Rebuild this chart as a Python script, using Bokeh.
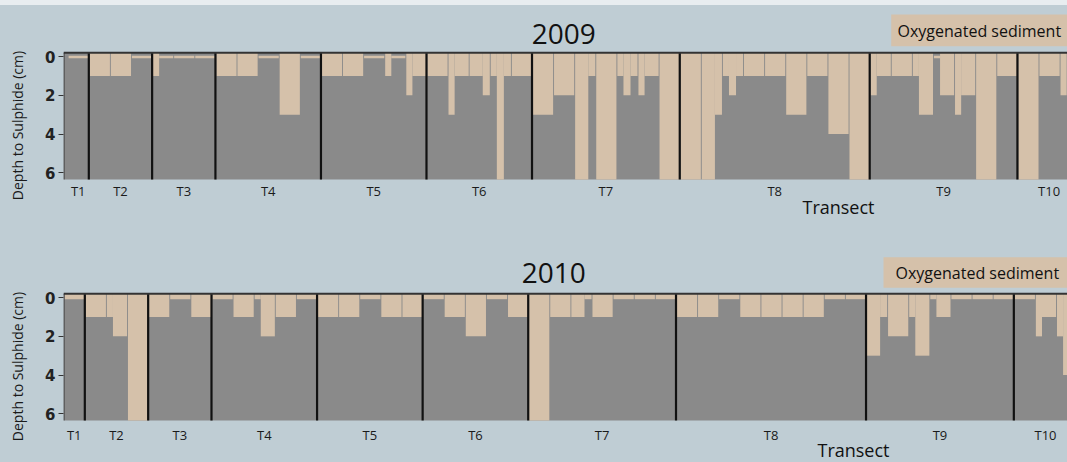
import numpy as np
from bokeh.plotting import figure
from bokeh.models import Range1d, FixedTicker, Label, LinearAxis, ColumnDataSource, Div
from bokeh.layouts import column
from bokeh.embed import file_html
from bokeh.resources import INLINE

# ---------------- data ----------------
transects = ["T1", "T2", "T3", "T4", "T5", "T6", "T7", "T8", "T9", "T10"]
stations = [1, 3, 3, 5, 5, 5, 7, 9, 7, 3]      # stations per transect
REPS = 3                                         # cores (replicates) per station
F = 6.5                                          # sulphide not reached within the core
y_ticks = [0, 2, 4, 6]

# depth to sulphide (cm) for each core, transect by transect (T10 is cut by the frame)
depth_2009 = [
    0, 0, 0,                                                   # T1
    1, 1, 1, 1, 1, 1, 0, 0, 0,                                 # T2
    1, 0, 0, 0, 0, 0, 0, 0, 0,                                 # T3
    1, 1, 1, 1, 1, 1, 0, 0, 0, 3, 3, 3, 0, 0, 0,               # T4
    1, 1, 1, 1, 1, 1, 0, 0, 0, 1, 0, 0, 2, 1, 1,               # T5
    1, 1, 1, 3, 1, 1, 1, 1, 2, 1, F, 1, 1, 1, 1,               # T6
    3, 3, 3, 2, 2, 2, F, F, 1, F, F, F, 1, 2, 1, 2, 1, 1, F, F, F,   # T7
    F, F, F, F, F, 3, 1, 2, 1, 1, 1, 1, 1, 1, 1, 3, 3, 3, 1, 1, 1, 4, 4, 4, F, F, F,  # T8
    2, 1, 1, 1, 1, 1, 1, 3, 3, 0, 2, 2, 3, 2, 2, F, F, F, 1, 1, 1,   # T9
    F, F, F, 1, 1, 1, 2,                                       # T10
]
depth_2010 = [
    0, 0, 0,                                                   # T1
    1, 1, 1, 1, 2, 2, F, F, F,                                 # T2
    1, 1, 1, 0, 0, 0, 1, 1, 1,                                 # T3
    0, 0, 0, 1, 1, 1, 0, 2, 2, 1, 1, 1, 0, 0, 0,               # T4
    1, 1, 1, 1, 1, 1, 0, 0, 0, 1, 1, 1, 1, 1, 1,               # T5
    0, 0, 0, 1, 1, 1, 2, 2, 2, 0, 0, 0, 1, 1, 1,               # T6
    F, F, F, 1, 1, 1, 1, 1, 0, 1, 1, 1, 0, 0, 0, 0, 0, 0, 0, 0, 0,   # T7
    1, 1, 1, 1, 1, 1, 0, 0, 0, 1, 1, 1, 1, 1, 1, 1, 1, 1, 1, 1, 1, 0, 0, 0, 0, 0, 0,  # T8
    3, 3, 1, 2, 2, 2, 1, 3, 3, 0, 1, 1, 0, 0, 0, 0, 0, 0, 0, 0, 0,   # T9
    0, 0, 0, 2, 1, 1, 2, 4,                                    # T10
]

# ---------------- style / layout ----------------
BG = "#bfcdd4"
GRAY = "#8a8a8a"
TAN = "#d5c1aa"
TOPSTRIP = "#e8edf0"
INK = "#111111"
LINE = "#333333"
Y_TOP, Y_BOTTOM = -0.2, 6.35       # depth shown in the grey core area
GAP = 0.13
W = 1067
FRAME_LEFT = 63
PX_PER_CM = 19.34


def panel(year, depths, page_top, height, area_top, origin, px_core, title_px,
          legend_box_px, legend_text_px, transect_px, tick_label_y, zero_top):
    xd = lambda px: (px - origin) / px_core
    yd = lambda py: Y_TOP + (py - area_top) / PX_PER_CM
    x0, x1 = xd(FRAME_LEFT), xd(W)
    p = figure(width=W, height=height, x_range=Range1d(x0, x1),
               y_range=Range1d(yd(page_top + height), yd(page_top)),
               output_backend="svg", toolbar_location=None,
               min_border_left=FRAME_LEFT, min_border_right=0,
               min_border_top=0, min_border_bottom=0,
               background_fill_color=None, border_fill_color=BG, outline_line_color=None)
    p.grid.visible = False

    # grey core area (sulphidic sediment)
    p.quad(left=[x0], right=[x1], top=[Y_TOP], bottom=[Y_BOTTOM],
           fill_color=GRAY, line_color=None)

    # oxygenated layer: one quad per run of equal cores inside a station
    d = np.array(depths, dtype=float)
    n = len(d)
    L, R, T, B = [], [], [], []
    for s in range(0, n, REPS):
        e = min(s + REPS, n)
        i = s
        while i < e:
            j = i
            while j + 1 < e and d[j + 1] == d[i]:
                j += 1
            L.append(i + (GAP if i == s else 0.0))
            R.append(j + 1.0)
            T.append(zero_top if d[i] == 0 else Y_TOP)
            B.append(min(max(d[i], 0.08), Y_BOTTOM))
            i = j + 1
    p.quad(left="left", right="right", top="top", bottom="bottom",
           source=ColumnDataSource(dict(left=L, right=R, top=T, bottom=B)),
           fill_color=TAN, line_color=None)

    # transect boundaries
    n_cores = np.array(stations) * REPS
    ends = np.cumsum(n_cores)
    starts = ends - n_cores
    bnd = [float(b) for b in ends[:-1]]
    p.segment(x0=bnd, x1=bnd, y0=[Y_TOP] * len(bnd), y1=[Y_BOTTOM] * len(bnd),
              line_color=INK, line_width=2.2)
    # frame lines (top and left of the core area)
    p.segment(x0=[x0, x0 + 0.07], x1=[x1, x0 + 0.07], y0=[Y_TOP, Y_TOP],
              y1=[Y_TOP, Y_BOTTOM], line_color=LINE, line_width=[2, 1])

    # x axis: transect names
    centers = starts + n_cores / 2.0
    xa = p.xaxis[0]
    xa.ticker = FixedTicker(ticks=[float(c) for c in centers])
    xa.major_label_overrides = {float(c): t for c, t in zip(centers, transects)}
    xa.axis_line_color = None
    xa.major_tick_line_color = None
    xa.minor_tick_line_color = None
    xa.major_tick_out = 0
    xa.major_tick_in = 0
    xa.major_label_standoff = int(round(tick_label_y - 10.7 - (page_top + height)))
    xa.major_label_text_font = "Open Sans"
    xa.major_label_text_font_size = "13px"
    xa.major_label_text_color = "#1a1a1a"

    # y axis
    ya = p.yaxis[0]
    ya.ticker = FixedTicker(ticks=y_ticks)
    ya.major_label_text_font = "DejaVu Sans"
    ya.major_label_text_font_style = "bold"
    ya.major_label_text_font_size = "15px"
    ya.major_label_text_color = "#222222"
    ya.major_label_standoff = 3
    ya.major_tick_in = 0
    ya.major_tick_out = 5
    ya.major_tick_line_color = LINE
    ya.minor_tick_line_color = None
    ya.axis_line_color = None

    # y axis title, centred where the original has it
    yl = yd(area_top + 72.7)
    lab_ax = LinearAxis(ticker=FixedTicker(ticks=[yl]),
                        major_label_overrides={yl: "Depth to Sulphide (cm)"},
                        major_label_orientation="vertical", axis_line_color=None,
                        major_tick_line_color=None, minor_tick_line_color=None,
                        major_tick_out=0, major_tick_in=0, major_label_standoff=16,
                        major_label_text_font="Open Sans",
                        major_label_text_font_size="14px",
                        major_label_text_color="#1a1a1a")
    p.add_layout(lab_ax, "left")

    # title, legend box, axis name
    p.add_layout(Label(x=xd(title_px[0]), y=yd(title_px[1]), text=year,
                       text_align="center", text_baseline="middle", text_font="Open Sans",
                       text_font_size="28px", text_color=INK))
    bx = legend_box_px
    p.quad(left=[xd(bx[0])], right=[x1 + 1], top=[yd(bx[1])], bottom=[yd(bx[2])],
           fill_color=TAN, line_color=None)
    p.add_layout(Label(x=xd(legend_text_px[0]), y=yd(legend_text_px[1]),
                       text="Oxygenated sediment", text_align="left",
                       text_baseline="middle", text_font="Open Sans",
                       text_font_size="16px", text_color=INK))
    p.add_layout(Label(x=xd(transect_px[0]), y=yd(transect_px[1]), text="Transect",
                       text_align="center", text_baseline="middle", text_font="Open Sans",
                       text_font_size="18px", text_color=INK))
    return p


p1 = panel("2009", depth_2009, 5, 226, 52.3, 67.2, 7.035, (563.3, 33),
           (890.7, 14, 45.7), (897, 30), (838, 206), 192, -0.05)
p2 = panel("2010", depth_2010, 231, 231, 293.3, 63.2, 7.038, (553.3, 272.7),
           (883, 256.7, 287.3), (895, 272), (853, 449.5), 436, Y_TOP)

strip = Div(text="", width=W, height=5, margin=0, styles={"background-color": TOPSTRIP})
layout = column(strip, p1, p2, spacing=0, styles={"background-color": BG})

open("out.html", "w").write(file_html(layout, INLINE))
